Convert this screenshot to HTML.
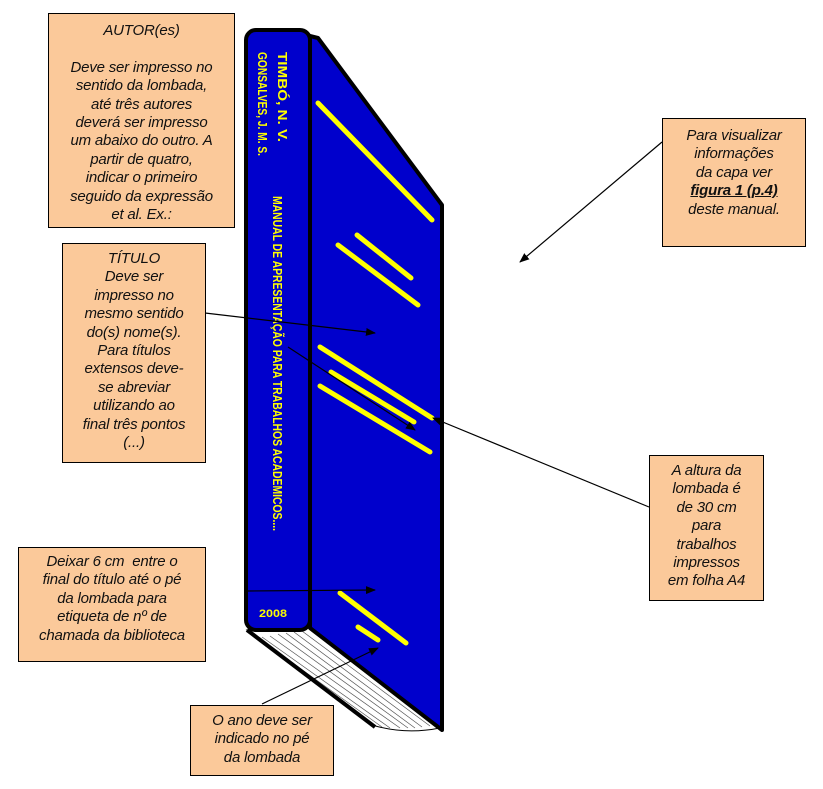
<!DOCTYPE html>
<html><head><meta charset="utf-8"><style>
body{margin:0;background:#fff;width:823px;height:789px;position:relative;overflow:hidden;font-family:"Liberation Sans",sans-serif}
.b{position:absolute;background:#FBC99A;border:1.5px solid #000;box-sizing:border-box;text-align:center;font-style:italic;font-size:15px;line-height:18.4px;color:#111;white-space:nowrap;letter-spacing:-0.2px}
svg{position:absolute;left:0;top:0}
</style></head><body>
<svg width="823" height="789" viewBox="0 0 823 789">
<defs><marker id="a" markerWidth="10" markerHeight="8" refX="9" refY="4" orient="auto" markerUnits="userSpaceOnUse"><path d="M0,0 L10,4 L0,8 z" fill="#000"/></marker></defs>
<path d="M247,630 L372,725 Q405,735 440,728 L440,720 L310,625 Z" fill="#fff" stroke="#000" stroke-width="1"/>
<g stroke="#555" stroke-width="0.7">
<path d="M270,636 L400,728"/><path d="M278,634 L408,728"/><path d="M286,633 L415,728"/><path d="M294,632 L422,727"/><path d="M302,631 L430,726"/><path d="M262,637 L390,728"/><path d="M255,636 L382,727"/>
</g>
<path d="M247,630 L375,727" stroke="#000" stroke-width="4"/>
<path d="M310,36 L318,38 L442,205 L442,730 L310,628 Z" fill="#0000CC" stroke="#000" stroke-width="4" stroke-linejoin="round"/>
<rect x="246" y="30" width="64" height="600" rx="10" fill="#0000CC" stroke="#000" stroke-width="4"/>
<g stroke="#FFFF00" stroke-width="5" stroke-linecap="round">
<path d="M318,103 L432,220"/><path d="M357,235 L411,278"/><path d="M338,245 L418,305"/>
<path d="M320,347 L432,418"/><path d="M331,372 L414,422"/><path d="M320,386 L430,452"/>
<path d="M340,593 L406,643"/><path d="M358,627 L378,640"/>
</g>
<g fill="#FFFF00" font-family="'Liberation Sans Narrow','Liberation Sans',sans-serif" font-weight="bold" font-size="13">
<text transform="translate(278,52) rotate(90)" textLength="90" lengthAdjust="spacingAndGlyphs">TIMBÓ, N. V.</text>
<text transform="translate(258,52) rotate(90)" textLength="104" lengthAdjust="spacingAndGlyphs">GONSALVES, J. M. S.</text>
<text transform="translate(273,196) rotate(90)" textLength="335" lengthAdjust="spacingAndGlyphs">MANUAL DE APRESENTAÇÃO PARA TRABALHOS ACADEMICOS....</text>
<text x="259" y="617" font-size="11" textLength="28" lengthAdjust="spacingAndGlyphs">2008</text>
</g>
<g stroke="#000" stroke-width="1.2" fill="none" marker-end="url(#a)">
<path d="M205,313 L375,333"/>
<path d="M288,347 L415,430"/>
<path d="M649,507 L433,418"/>
<path d="M662,142 L520,262"/>
<path d="M247,591 L375,590"/>
<path d="M262,704 L378,648"/>
</g>
</svg>
<div class="b" style="left:48px;top:13px;width:187px;height:215px;padding-top:8px">AUTOR(es)<br><br>Deve ser impresso no<br>sentido da lombada,<br>até três autores<br>deverá ser impresso<br>um abaixo do outro. A<br>partir de quatro,<br>indicar o primeiro<br>seguido da expressão<br>et al. Ex.:</div>
<div class="b" style="left:62px;top:243px;width:144px;height:220px;padding-top:6px">TÍTULO<br>Deve ser<br>impresso no<br>mesmo sentido<br>do(s) nome(s).<br>Para títulos<br>extensos deve-<br>se abreviar<br>utilizando ao<br>final três pontos<br>(...)</div>
<div class="b" style="left:662px;top:118px;width:144px;height:129px;padding-top:8px">Para visualizar<br>informações<br>da capa ver<br><b><u>figura 1 (p.4)</u></b><br>deste manual.</div>
<div class="b" style="left:649px;top:455px;width:115px;height:146px;padding-top:6px">A altura da<br>lombada é<br>de 30 cm<br>para<br>trabalhos<br>impressos<br>em folha A4</div>
<div class="b" style="left:18px;top:547px;width:188px;height:115px;padding-top:5px">Deixar 6 cm &nbsp;entre o<br>final do título até o pé<br>da lombada para<br>etiqueta de nº de<br>chamada da biblioteca</div>
<div class="b" style="left:190px;top:705px;width:144px;height:71px;padding-top:6px">O ano deve ser<br>indicado no pé<br>da lombada</div>
</body></html>
